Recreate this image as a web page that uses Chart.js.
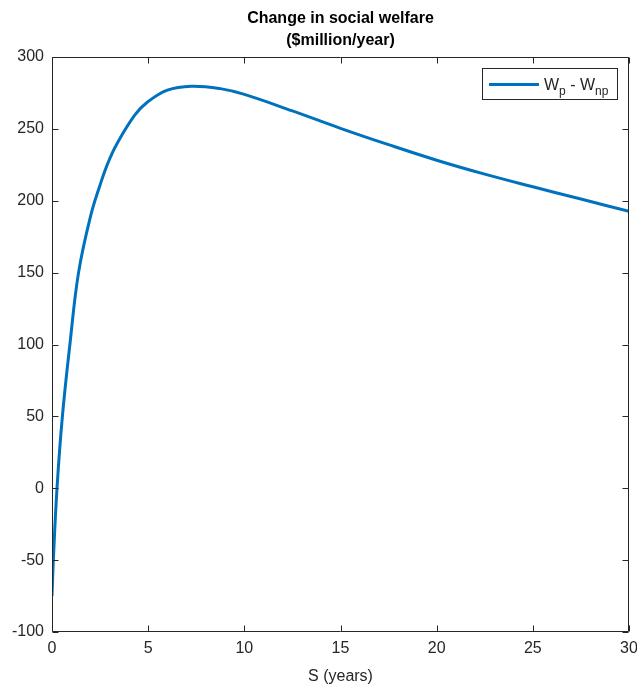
<!DOCTYPE html>
<html>
<head>
<meta charset="utf-8">
<script src="https://cdn.jsdelivr.net/npm/chart.js@4/dist/chart.umd.min.js"></script>
<style>
  html, body { margin: 0; padding: 0; background: #fff; }
</style>
</head>
<body>
<canvas id="welfareChart" width="637" height="686"></canvas>
<script>
// values
const sYears = [0, 0.07, 0.26, 0.54, 0.93, 1.38, 2.0, 2.5, 2.9, 3.35, 4.3, 4.95, 6, 7.25, 8.75, 10, 12.5, 15, 17.5, 20, 22.5, 25, 27.5, 30];
const welfareChange = [-75, -50, 0, 50, 100, 150, 189, 211, 226, 239, 259.5, 268.5, 277, 279.7, 278, 274, 262.5, 250.4, 239, 228.2, 218.5, 209.7, 201.2, 192.6];
const xTicks = [0, 5, 10, 15, 20, 25, 30];
const yTicks = [-100, -50, 0, 50, 100, 150, 200, 250, 300];
const titleLines = ["Change in social welfare", "($million/year)"];
const xLabel = "S (years)";
// even entries normal text, odd entries subscript
const legendParts = ["W", "p", " - W", "np"];

const axisColor = "#262626";
const lineColor = "#0072BD";
const font = "'Liberation Sans', Arial, Helvetica, sans-serif";

// box around the axes with inward ticks, title and legend, like matlab
const matlabBox = {
  id: "matlabBox",
  afterDatasetsDraw(chart) {
    const { ctx, chartArea: a, scales } = chart;
    const l = Math.round(a.left) + 0.5, r = Math.round(a.right) - 0.5;
    const t = Math.round(a.top) + 0.5, b = Math.round(a.bottom) - 0.5;
    ctx.save();
    ctx.strokeStyle = axisColor;
    ctx.lineWidth = 1;
    ctx.beginPath();
    ctx.rect(l, t, r - l, b - t);
    xTicks.forEach(v => {
      const px = Math.round(scales.x.getPixelForValue(v)) + 0.5;
      ctx.moveTo(px, b); ctx.lineTo(px, b - 6);
      ctx.moveTo(px, t); ctx.lineTo(px, t + 6);
    });
    yTicks.forEach(v => {
      const py = Math.round(scales.y.getPixelForValue(v)) + 0.5;
      ctx.moveTo(l, py); ctx.lineTo(l + 6, py);
      ctx.moveTo(r, py); ctx.lineTo(r - 6, py);
    });
    ctx.stroke();

    // title centred over the axes
    ctx.fillStyle = "#000";
    ctx.font = "bold 16px " + font;
    ctx.textAlign = "center";
    ctx.textBaseline = "middle";
    const cx = (a.left + a.right) / 2;
    titleLines.forEach((s, i) => ctx.fillText(s, cx, 19 + i * 22));

    // legend
    const bx = 482.5, by = 68.5, bw = 135, bh = 31;
    ctx.fillStyle = "#fff";
    ctx.fillRect(bx, by, bw, bh);
    ctx.strokeStyle = axisColor;
    ctx.strokeRect(bx, by, bw, bh);
    ctx.strokeStyle = lineColor;
    ctx.lineWidth = 3;
    ctx.beginPath();
    ctx.moveTo(489, 84.5); ctx.lineTo(539, 84.5);
    ctx.stroke();
    ctx.fillStyle = axisColor;
    ctx.textBaseline = "alphabetic";
    ctx.textAlign = "left";
    let tx = 544;
    legendParts.forEach((s, i) => {
      if (i % 2 === 0) {
        ctx.font = "16px " + font;
        ctx.fillText(s, tx, 90);
      } else {
        ctx.font = "12px " + font;
        ctx.fillText(s, tx, 95);
      }
      tx += ctx.measureText(s).width;
    });
    ctx.restore();
  }
};

new Chart(document.getElementById("welfareChart").getContext("2d"), {
  type: "line",
  data: {
    datasets: [
      {
        label: "Wp - Wnp",
        data: sYears.map((s, i) => ({ x: s, y: welfareChange[i] })),
        borderColor: lineColor,
        borderWidth: 3,
        pointRadius: 0,
        fill: false,
        tension: 0.4,
      },
    ],
  },
  options: {
    responsive: false,
    animation: false,
    devicePixelRatio: 1,
    layout: { padding: { left: 0, right: 8, top: 57, bottom: 0 } },
    plugins: {
      legend: { display: false },
      tooltip: { enabled: false },
      title: { display: false },
    },
    scales: {
      x: {
        type: "linear",
        min: 0,
        max: 30,
        afterBuildTicks: s => { s.ticks = xTicks.map(v => ({ value: v })); },
        grid: { display: false, drawTicks: false },
        border: { display: false },
        ticks: { color: axisColor, padding: 7, font: { family: font, size: 16 } },
        title: {
          display: true,
          text: xLabel,
          color: axisColor,
          padding: { top: 2, bottom: 0 },
          font: { family: font, size: 16 },
        },
        afterFit: s => { s.height = 54; s.paddingLeft = 0; s.paddingRight = 0; },
      },
      y: {
        min: -100,
        max: 300,
        afterBuildTicks: s => { s.ticks = yTicks.map(v => ({ value: v })); },
        grid: { display: false, drawTicks: false },
        border: { display: false },
        ticks: { color: axisColor, padding: 8, font: { family: font, size: 16 } },
        afterFit: s => { s.width = 52; s.paddingTop = 0; s.paddingBottom = 0; },
      },
    },
  },
  plugins: [matlabBox],
});
</script>
</body>
</html>
